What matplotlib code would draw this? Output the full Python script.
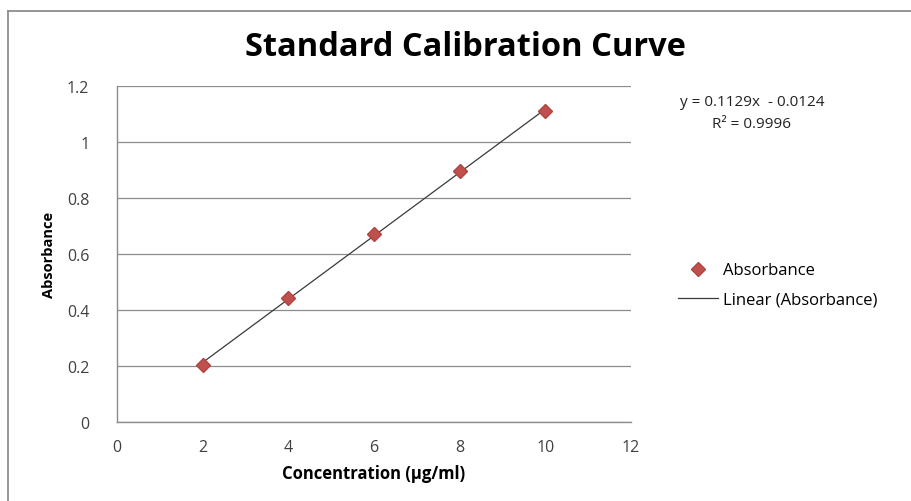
import numpy as np
import matplotlib
matplotlib.use('Agg')
from matplotlib import pyplot as plt
from matplotlib.lines import Line2D

plt.rcParams['font.family'] = ['Open Sans', 'DejaVu Sans']

# data
concentration = [2, 4, 6, 8, 10]
absorbance = [0.205, 0.443, 0.671, 0.897, 1.109]
x_ticks = [0, 2, 4, 6, 8, 10, 12]
y_ticks = [0, 0.2, 0.4, 0.6, 0.8, 1, 1.2]
y_tick_labels = ['0', '0.2', '0.4', '0.6', '0.8', '1', '1.2']
equation = 'y = 0.1129x  - 0.0124'
r_squared = 'R² = 0.9996'

fig = plt.figure(figsize=(9.12, 5.02), dpi=100)
ax = fig.add_axes([117/912, 1 - 423/502, (631-117)/912, (423-87)/502])

# linear trendline
slope, intercept = np.polyfit(concentration, absorbance, 1)
xs = np.array([concentration[0], concentration[-1]])
ax.plot(xs, slope*xs + intercept, color='#3a3a3a', lw=0.9, zorder=2,
        label='Linear (Absorbance)')
ax.plot(concentration, absorbance, linestyle='none', marker='D', ms=7,
        color='#c0504d', mec='#b04440', zorder=3, label='Absorbance')

ax.set_xlim(0, 12)
ax.set_ylim(0, 1.2)
ax.set_xticks(x_ticks)
ax.set_yticks(y_ticks)
ax.set_yticklabels(y_tick_labels)
ax.tick_params(length=0, labelsize=11.5, colors='#404040')
ax.tick_params(axis='y', pad=20)
ax.tick_params(axis='x', pad=12)
ax.grid(axis='y', color='#8c8c8c', lw=0.9)
ax.set_axisbelow(True)
for s in ['top', 'right']:
    ax.spines[s].set_visible(False)
for s in ['left', 'bottom']:
    ax.spines[s].set_color('#8c8c8c')
    ax.spines[s].set_linewidth(1.0)

ax.set_xlabel('Concentration (μg/ml)', fontsize=12, fontweight='bold', labelpad=7)
ax.set_ylabel('Absorbance', fontsize=10.5, fontweight='bold', labelpad=8)
fig.text(465/912, 1 - 48/502, 'Standard Calibration Curve', fontsize=23.5,
         fontweight='bold', ha='center', va='center')

fig.text(752/912, 1 - 102/502, equation, fontsize=11, ha='center', va='center',
         color='#222222')
fig.text(752/912, 1 - 124/502, r_squared, fontsize=11, ha='center', va='center',
         color='#222222')

handles, labels = ax.get_legend_handles_labels()
ax.legend(handles[::-1], labels[::-1], loc='center left',
          bbox_to_anchor=(670/912, 1 - 286/502), bbox_transform=fig.transFigure,
          frameon=False, fontsize=12, handlelength=2.4, handletextpad=0.3,
          labelspacing=0.8, borderpad=0)

# outer chart border
fig.add_artist(Line2D([8/912, 1], [1 - 12/502, 1 - 12/502], color='#8c8c8c', lw=1.3))
fig.add_artist(Line2D([8/912, 8/912], [0, 1 - 12/502], color='#8c8c8c', lw=1.3))

fig.savefig('out.png', dpi=100)
